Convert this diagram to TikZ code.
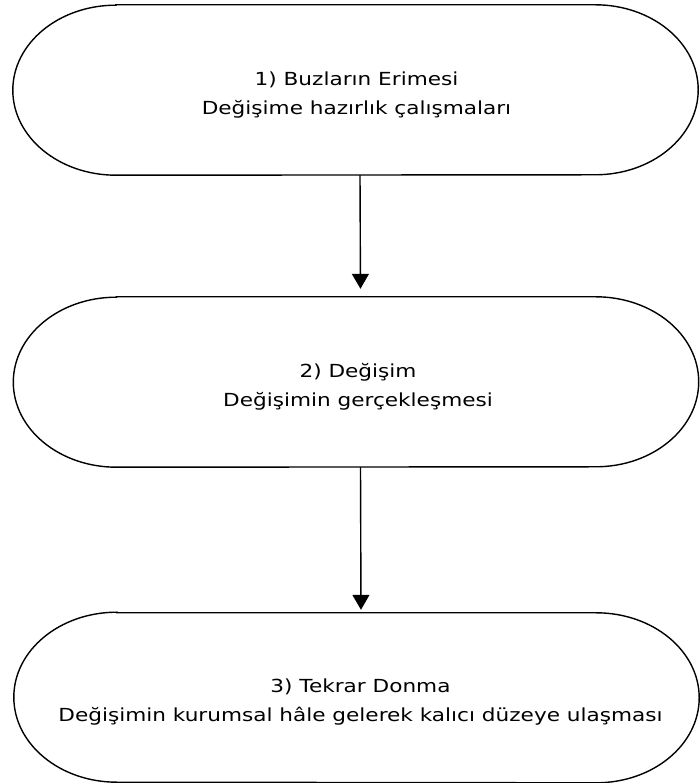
\documentclass[tikz,border=0pt]{standalone}
\usepackage{fontspec}
\newfontfamily\stagefont[FakeStretch=1.2]{DejaVu Sans}
\usetikzlibrary{arrows.meta}
\begin{document}
\begin{tikzpicture}[x=1pt,y=1pt,
  stage/.style={minimum width=685pt, minimum height=170pt, inner sep=0pt},
  caption/.style={align=center, inner sep=0pt, font=\stagefont\fontsize{18}{29}\selectfont},
  outline/.style={line width=1.4pt},
  flow/.style={line width=1.4pt, -{Triangle[width=17pt,length=15pt]}}]
  \useasboundingbox (0,0) rectangle (699,783);
  % the three stages of the change process
  \node[stage] (b1) at (355.5,693) {};
  \node[stage] (b2) at (356,401)   {};
  \node[stage, minimum height=169pt] (b3) at (356.5,85.5) {};
  \node[caption] (t1) at ([xshift=1pt,yshift=-5pt]b1.center) {1) Buzların Erimesi\\Değişime hazırlık çalışmaları};
  \node[caption] (t2) at ([xshift=2pt,yshift=-5pt]b2.center) {2) Değişim\\Değişimin gerçekleşmesi};
  \node[caption] (t3) at ([xshift=4pt,yshift=-5pt]b3.center) {3) Tekrar Donma\\Değişimin kurumsal hâle gelerek kalıcı düzeye ulaşması};
  % stadium outlines with elliptic ends
  \foreach \b in {b1,b2,b3}{
    \draw[outline]
      ([xshift=103pt]\b.north west) -- ([xshift=-103pt]\b.north east)
      arc[start angle=90, end angle=-90, x radius=103pt, y radius=85pt]
      -- ([xshift=103pt]\b.south west)
      arc[start angle=270, end angle=90, x radius=103pt, y radius=85pt]
      -- cycle;
  }
  % connectors
  \draw[flow, shorten >=8pt] ([xshift=4.5pt]b1.south) -- ([xshift=4.5pt]b2.north);
  \draw[flow, shorten >=3pt] ([xshift=4.5pt]b2.south) -- ([xshift=4.5pt]b3.north);
\end{tikzpicture}
\end{document}
